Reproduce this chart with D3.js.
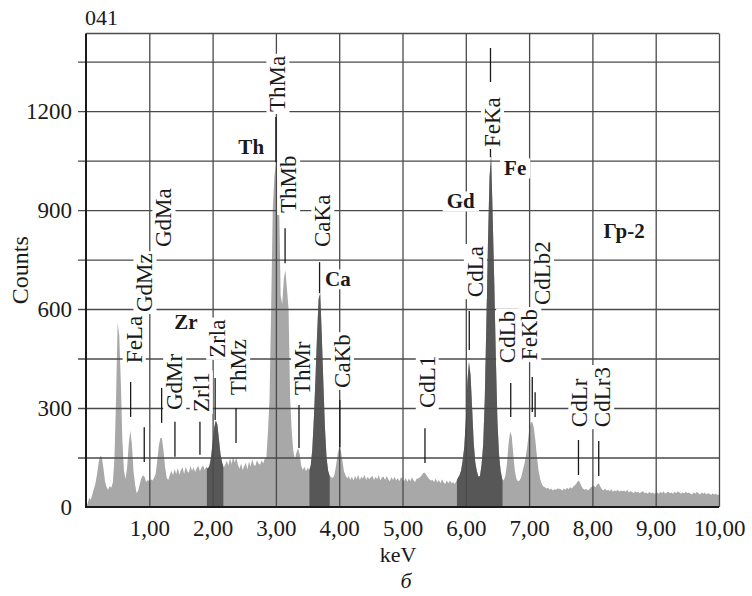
<!DOCTYPE html>
<html>
<head>
<meta charset="utf-8">
<script src="https://cdn.jsdelivr.net/npm/d3@7"></script>
<style>
  body { margin: 0; background: #fff; }
  svg { display: block; }
  text { font-family: "Liberation Serif", "Times New Roman", serif; fill: #1a1a1a; }
</style>
</head>
<body>
<svg id="chart" width="752" height="596"></svg>
<script>
// EDS spectrum, counts per 0.025 keV channel from 0 to 10 keV
const energyStep = 0.025;
const counts = [
  0, 10, 28, 22, 38, 55, 72, 100, 135, 155,
  150, 118, 78, 60, 52, 64, 58, 75, 150, 330,
  560, 520, 380, 200, 110, 85, 120, 190, 232, 190,
  110, 68, 42, 50, 70, 88, 96, 92, 76, 82,
  78, 84, 80, 88, 100, 140, 185, 210, 208, 170,
  120, 88, 82, 98, 110, 96, 115, 100, 118, 98,
  112, 120, 100, 122, 108, 104, 124, 110, 120, 106,
  118, 124, 108, 120, 126, 112, 122, 116, 125, 150,
  195, 240, 262, 250, 205, 160, 135, 120, 128, 140,
  126, 148, 130, 152, 134, 150, 128, 116, 132, 112,
  124, 134, 114, 138, 122, 145, 128, 124, 142, 132,
  128, 142, 132, 148, 150, 230, 330, 600, 900, 1000,
  1040, 1000, 930, 640, 615, 690, 718, 660, 600, 330,
  230, 170, 145, 165, 178, 160, 125, 112, 122, 108,
  118, 112, 125, 175, 270, 390, 520, 630, 648, 520,
  375, 240, 150, 110, 95, 90, 88, 98, 125, 160,
  180, 172, 140, 108, 96, 86, 94, 82, 92, 80,
  94, 84, 98, 82, 92, 86, 98, 82, 92, 84,
  90, 94, 82, 92, 84, 97, 80, 90, 92, 82,
  94, 84, 78, 90, 82, 92, 80, 88, 78, 90,
  86, 78, 88, 76, 86, 78, 90, 80, 76, 86,
  86, 90, 95, 102, 104, 98, 90, 84, 80, 82,
  76, 86, 74, 82, 72, 84, 74, 70, 80, 72,
  80, 72, 76, 70, 78, 88, 96, 110, 140, 180,
  260, 380, 440, 400, 300, 195, 135, 108, 92, 95,
  130, 190, 330, 560, 800, 1000, 1065, 880, 680, 450,
  260, 160, 110, 85, 80, 95, 130, 190, 228, 215,
  160, 110, 85, 78, 80, 90, 110, 130, 155, 190,
  230, 255, 258, 240, 200, 150, 110, 85, 70, 62,
  60, 56, 58, 52, 56, 50, 54, 52, 56, 55,
  54, 50, 56, 52, 58, 54, 60, 56, 62, 66,
  72, 80, 76, 64, 56, 52, 55, 50, 54, 60,
  62, 64, 60, 68, 72, 62, 54, 50, 56, 50,
  52, 48, 54, 46, 50, 48, 52, 46, 50, 48,
  50, 46, 52, 44, 48, 46, 42, 48, 44, 46,
  42, 46, 48, 42, 44, 40, 46, 42, 44, 40,
  42, 44, 40, 46, 42, 48, 40, 44, 46, 42,
  44, 40, 46, 42, 48, 44, 40, 44, 42, 46,
  42, 44, 40, 38, 44, 40, 46, 42, 38, 44,
  40, 44, 38, 42, 40, 36, 42, 38, 40, 36,
  38
];

// energy windows (keV) of the integrated element peaks
const peakWindows = [[1.91, 2.17], [3.53, 3.85], [5.86, 6.58]];

const xTickValues = [1, 2, 3, 4, 5, 6, 7, 8, 9, 10];
const yTickValues = [0, 300, 600, 900, 1200];
const yGridValues = [150, 300, 450, 600, 750, 900, 1050, 1200, 1350];
const countsMax = 1435;

// line identifications: label text centre (keV) and the count level where the text starts
const lineLabels = [
  { name: "FeLa",  energy: 0.76, start: 436 },
  { name: "GdMz",  energy: 0.93, start: 591 },
  { name: "GdMa",  energy: 1.23, start: 788 },
  { name: "GdMr",  energy: 1.40, start: 294 },
  { name: "Zrl1",  energy: 1.82, start: 288 },
  { name: "Zrla",  energy: 2.08, start: 452 },
  { name: "ThMz",  energy: 2.41, start: 339 },
  { name: "ThMa",  energy: 3.03, start: 1197 },
  { name: "ThMb",  energy: 3.20, start: 891 },
  { name: "ThMr",  energy: 3.42, start: 339 },
  { name: "CaKa",  energy: 3.74, start: 788 },
  { name: "CaKb",  energy: 4.05, start: 361 },
  { name: "CdL1",  energy: 5.39, start: 300 },
  { name: "CdLa",  energy: 6.15, start: 636 },
  { name: "FeKa",  energy: 6.42, start: 1091 },
  { name: "CdLb",  energy: 6.66, start: 436 },
  { name: "FeKb",  energy: 7.01, start: 445 },
  { name: "CdLb2", energy: 7.21, start: 612 },
  { name: "CdLr",  energy: 7.80, start: 242 },
  { name: "CdLr3", energy: 8.16, start: 242 }
];

// line position markers: [energy keV, upper count, lower count]
const markerLines = [
  [0.705, 379, 273], [0.92, 242, 136], [1.195, 361, 255], [1.405, 258, 152],
  [1.80, 258, 158], [2.04, 391, 264], [2.37, 300, 194], [3.00, 1182, 1045],
  [3.145, 845, 739], [3.365, 309, 179], [3.69, 742, 648], [4.01, 324, 182],
  [5.355, 239, 133], [6.055, 594, 476], [6.39, 1391, 1288], [6.39, 1088, 1060],
  [6.71, 376, 273], [7.05, 394, 288], [7.095, 348, 273], [7.78, 203, 97],
  [8.10, 200, 94]
];

// element names and sample tag
const elementLabels = [
  { name: "Zr",   energy: 1.58, level: 561 },
  { name: "Th",   energy: 2.61, level: 1091 },
  { name: "Ca",   energy: 3.98, level: 691 },
  { name: "Gd",   energy: 5.92, level: 927 },
  { name: "Fe",   energy: 6.78, level: 1027 },
  { name: "Гр-2", energy: 8.50, level: 839 }
];

const svg = d3.select("#chart");
const margin = { left: 86, right: 33, top: 33.5, bottom: 89 };
const W = 752, H = 596;

const x = d3.scaleLinear().domain([0, 10]).range([margin.left, W - margin.right]);
const y = d3.scaleLinear().domain([0, countsMax]).range([H - margin.bottom, margin.top]);

const gridColor = "#4a4a4a";
const serif = '"Liberation Serif", "Times New Roman", serif';

// spectrum
const area = d3.area()
  .x((d, i) => x(i * energyStep))
  .y0(y(0))
  .y1(d => y(d));

svg.append("path").datum(counts)
  .attr("d", area)
  .attr("fill", "#a8a8a8");

const defs = svg.append("defs");
peakWindows.forEach((w, k) => {
  defs.append("clipPath").attr("id", "win" + k)
    .append("rect")
    .attr("x", x(w[0])).attr("width", x(w[1]) - x(w[0]))
    .attr("y", y(countsMax)).attr("height", y(0) - y(countsMax));
  svg.append("path").datum(counts)
    .attr("d", area)
    .attr("fill", "#575757")
    .attr("clip-path", `url(#win${k})`);
});

// grid drawn over the spectrum
const hGrid = svg.append("g")
  .attr("transform", `translate(${x(0) - 8},0)`)
  .call(d3.axisLeft(y).tickValues(yGridValues).tickSize(-(x(10) - x(0) + 8)).tickFormat(""));
hGrid.select(".domain").remove();
hGrid.selectAll("line").attr("stroke", gridColor).attr("stroke-width", 1.3);

const vGrid = svg.append("g")
  .attr("transform", `translate(0,${y(0)})`)
  .call(d3.axisBottom(x).tickValues(xTickValues).tickSize(-(y(0) - y(countsMax))).tickFormat(""));
vGrid.select(".domain").remove();
vGrid.selectAll("line").attr("stroke", gridColor).attr("stroke-width", 1.3);

svg.append("line")
  .attr("x1", x(0)).attr("x2", x(10))
  .attr("y1", y(countsMax)).attr("y2", y(countsMax))
  .attr("stroke", gridColor).attr("stroke-width", 1.3);

// axes
const yAxis = svg.append("g")
  .attr("transform", `translate(${x(0)},0)`)
  .call(d3.axisLeft(y).tickValues(yTickValues).tickSize(0).tickPadding(14)
    .tickFormat(d3.format("d")));
yAxis.select(".domain").remove();
yAxis.selectAll("text").style("font-size", "23px").style("font-family", serif).attr("fill", "#1a1a1a");

const xAxis = svg.append("g")
  .attr("transform", `translate(0,${y(0)})`)
  .call(d3.axisBottom(x).tickValues(xTickValues).tickSize(0).tickPadding(13)
    .tickFormat(d => d.toFixed(2).replace(".", ",")));
xAxis.select(".domain").remove();
xAxis.selectAll("text").style("font-size", "23px").style("font-family", serif).attr("fill", "#1a1a1a");

svg.append("line")
  .attr("x1", x(0)).attr("x2", x(0)).attr("y1", y(0) + 1).attr("y2", y(countsMax))
  .attr("stroke", "#1a1a1a").attr("stroke-width", 2);
svg.append("line")
  .attr("x1", x(0)).attr("x2", x(10)).attr("y1", y(0)).attr("y2", y(0))
  .attr("stroke", "#1a1a1a").attr("stroke-width", 2);

// marker lines
svg.append("g").selectAll("line").data(markerLines).join("line")
  .attr("x1", d => x(d[0])).attr("x2", d => x(d[0]))
  .attr("y1", d => y(d[1])).attr("y2", d => y(d[2]))
  .attr("stroke", "#1a1a1a").attr("stroke-width", 1.3);

// vertical line labels with white backing
lineLabels.forEach(l => {
  const g = svg.append("g")
    .attr("transform", `translate(${x(l.energy)},${y(l.start)}) rotate(-90)`);
  const t = g.append("text")
    .attr("x", 0).attr("y", 0).attr("dy", "0.33em")
    .style("font-size", "23px")
    .text(l.name);
  const bb = t.node().getBBox();
  g.insert("rect", "text")
    .attr("x", bb.x - 2).attr("y", bb.y + 1)
    .attr("width", bb.width + 4).attr("height", bb.height - 2)
    .attr("fill", "#fff");
});

// bold element labels
elementLabels.forEach(l => {
  const g = svg.append("g").attr("transform", `translate(${x(l.energy)},${y(l.level)})`);
  const t = g.append("text")
    .attr("text-anchor", "middle").attr("dy", "0.35em")
    .style("font-size", "21px").style("font-weight", "bold")
    .text(l.name);
  const bb = t.node().getBBox();
  g.insert("rect", "text")
    .attr("x", bb.x - 4).attr("y", bb.y + 2)
    .attr("width", bb.width + 8).attr("height", bb.height - 4)
    .attr("fill", "#fff");
});

// titles
svg.append("text").attr("x", 85).attr("y", 25).style("font-size", "22px").text("041");
svg.append("text")
  .attr("transform", `translate(28,${(y(0) + y(countsMax)) / 2}) rotate(-90)`)
  .attr("text-anchor", "middle").style("font-size", "24px").text("Counts");
svg.append("text").attr("x", 398).attr("y", 562).attr("text-anchor", "middle")
  .style("font-size", "22px").text("keV");
svg.append("text").attr("x", 406).attr("y", 588).attr("text-anchor", "middle")
  .style("font-size", "22px").style("font-style", "italic").text("б");
</script>
</body>
</html>
